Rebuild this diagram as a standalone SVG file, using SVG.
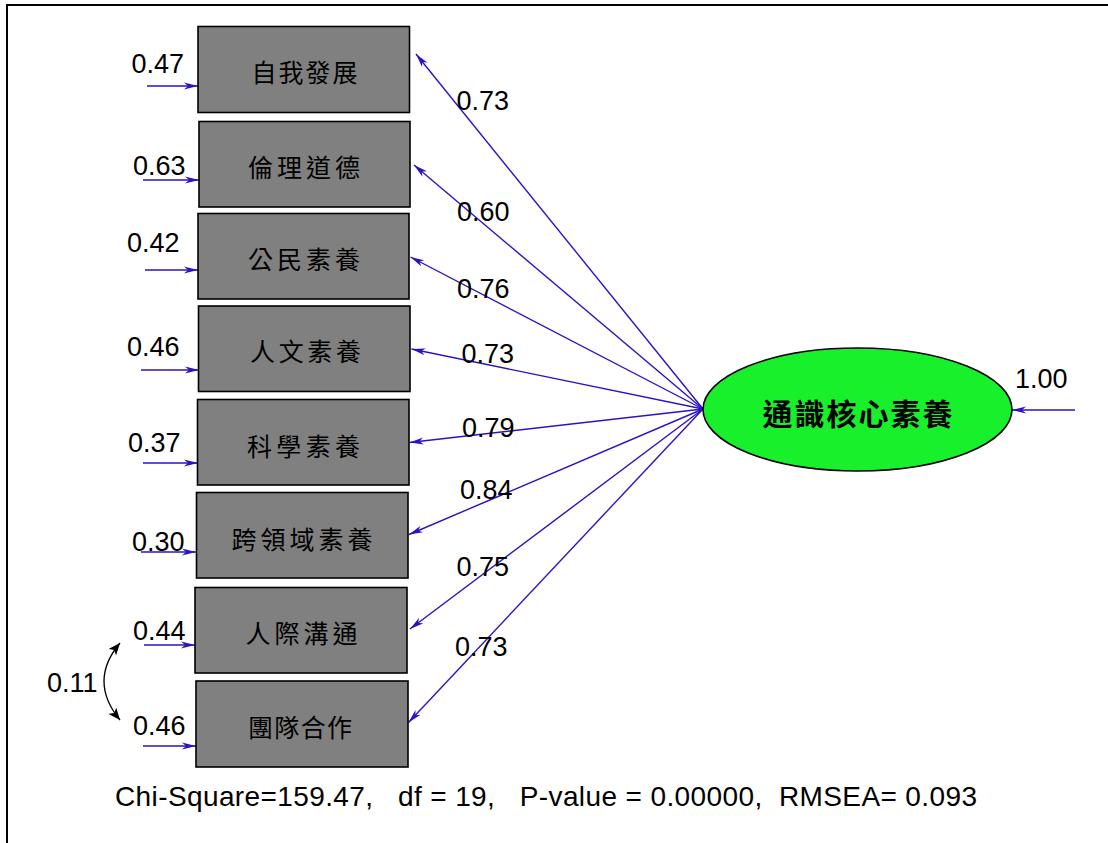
<svg xmlns="http://www.w3.org/2000/svg" width="1108" height="843" viewBox="0 0 1108 843">
<defs>
<style>
.box{fill:#808080;stroke:#000;stroke-width:1.6}
.bt{font-family:"Noto Sans CJK TC","Noto Sans CJK SC",sans-serif;font-size:25px;fill:#000}
.num{font-family:"Liberation Sans",Arial,sans-serif;font-size:27px;fill:#000}
.ln{stroke:#2c12c4;stroke-width:1.4;fill:none;marker-end:url(#ab)}
.cov{stroke:#000;stroke-width:1.3;fill:none;marker-start:url(#ak);marker-end:url(#ak)}
</style>
<marker id="ab" viewBox="0 0 14 8" refX="14" refY="4" markerWidth="14" markerHeight="8" markerUnits="userSpaceOnUse" orient="auto">
<path d="M0,0.5 L14,4 L0,7.5 L4,4 Z" fill="#2c12c4"/>
</marker>
<marker id="ak" viewBox="0 0 12 10" refX="12" refY="5" markerWidth="12" markerHeight="10" markerUnits="userSpaceOnUse" orient="auto-start-reverse">
<path d="M0,0 L12,5 L0,10 L3,5 Z" fill="#000"/>
</marker>
</defs>
<rect x="0" y="0" width="1108" height="843" fill="#fff"/>
<path d="M7,843 V5 H1108" fill="none" stroke="#000" stroke-width="2"/>

<g id="connectors">
<line class="ln" x1="703" y1="409" x2="416" y2="54"/>
<line class="ln" x1="703" y1="409" x2="414" y2="165"/>
<line class="ln" x1="703" y1="409" x2="410.5" y2="257"/>
<line class="ln" x1="703" y1="409" x2="411.5" y2="349"/>
<line class="ln" x1="703" y1="409" x2="409.5" y2="442.5"/>
<line class="ln" x1="703" y1="409" x2="409" y2="534.5"/>
<line class="ln" x1="703" y1="409" x2="410" y2="629"/>
<line class="ln" x1="703" y1="409" x2="408.5" y2="722.5"/>
<line class="ln" x1="147" y1="86" x2="198" y2="86"/>
<line class="ln" x1="143" y1="180" x2="199" y2="180"/>
<line class="ln" x1="145" y1="270" x2="198" y2="270"/>
<line class="ln" x1="141" y1="370" x2="199" y2="370"/>
<line class="ln" x1="143" y1="463" x2="198" y2="463"/>
<line class="ln" x1="141" y1="552" x2="196" y2="552"/>
<line class="ln" x1="144" y1="645" x2="195" y2="645"/>
<line class="ln" x1="143" y1="746" x2="196" y2="746"/>
<line class="ln" x1="1075" y1="410" x2="1012" y2="410"/>
<path class="cov" d="M120,643 Q88,681 120,720"/>
</g>

<g id="n1"><rect class="box" x="198" y="26.5" width="211.5" height="86"/><text class="bt" x="251.5" y="82" textLength="106" lengthAdjust="spacing">自我發展</text></g>
<g id="n2"><rect class="box" x="199" y="121.5" width="211" height="85.5"/><text class="bt" x="248" y="177" textLength="112" lengthAdjust="spacing">倫理道德</text></g>
<g id="n3"><rect class="box" x="198" y="213.5" width="211" height="85.5"/><text class="bt" x="248" y="269" textLength="112" lengthAdjust="spacing">公民素養</text></g>
<g id="n4"><rect class="box" x="198.5" y="306" width="211.5" height="85.5"/><text class="bt" x="250" y="361" textLength="111" lengthAdjust="spacing">人文素養</text></g>
<g id="n5"><rect class="box" x="197.5" y="399.5" width="211.5" height="85.5"/><text class="bt" x="247" y="456" textLength="113" lengthAdjust="spacing">科學素養</text></g>
<g id="n6"><rect class="box" x="196.5" y="492.5" width="211.5" height="85.5"/><text class="bt" x="231.5" y="549" textLength="141" lengthAdjust="spacing">跨領域素養</text></g>
<g id="n7"><rect class="box" x="195" y="587.5" width="212" height="85.5"/><text class="bt" x="245.5" y="643" textLength="112" lengthAdjust="spacing">人際溝通</text></g>
<g id="n8"><rect class="box" x="196" y="681" width="212" height="86"/><text class="bt" x="248" y="737" textLength="104" lengthAdjust="spacing">團隊合作</text></g>

<g id="latent">
<ellipse cx="857.5" cy="409.5" rx="154.5" ry="61.5" fill="#17f02a" stroke="#000" stroke-width="1.6"/>
<text x="762.5" y="425" textLength="190" lengthAdjust="spacing" style="font-family:'Noto Sans CJK TC','Noto Sans CJK SC',sans-serif;font-size:30px;font-weight:bold;fill:#000">通識核心素養</text>
</g>

<g id="labels">
<text class="num" x="131.5" y="73">0.47</text>
<text class="num" x="133" y="175">0.63</text>
<text class="num" x="127" y="252">0.42</text>
<text class="num" x="127" y="356">0.46</text>
<text class="num" x="128" y="452">0.37</text>
<text class="num" x="132" y="551">0.30</text>
<text class="num" x="133" y="640">0.44</text>
<text class="num" x="133" y="735">0.46</text>
<text class="num" x="47" y="692">0.11</text>
<text class="num" x="1015" y="388">1.00</text>
<text class="num" x="456.5" y="110">0.73</text>
<text class="num" x="457" y="221">0.60</text>
<text class="num" x="457" y="298">0.76</text>
<text class="num" x="461.5" y="363">0.73</text>
<text class="num" x="462" y="437">0.79</text>
<text class="num" x="460" y="499">0.84</text>
<text class="num" x="456.5" y="576">0.75</text>
<text class="num" x="455" y="656">0.73</text>
<text x="115" y="806" textLength="862" lengthAdjust="spacing" style="font-family:'Liberation Sans',Arial,sans-serif;font-size:28px;fill:#000;white-space:pre">Chi-Square=159.47,   df = 19,   P-value = 0.00000,  RMSEA= 0.093</text>
</g>
</svg>
